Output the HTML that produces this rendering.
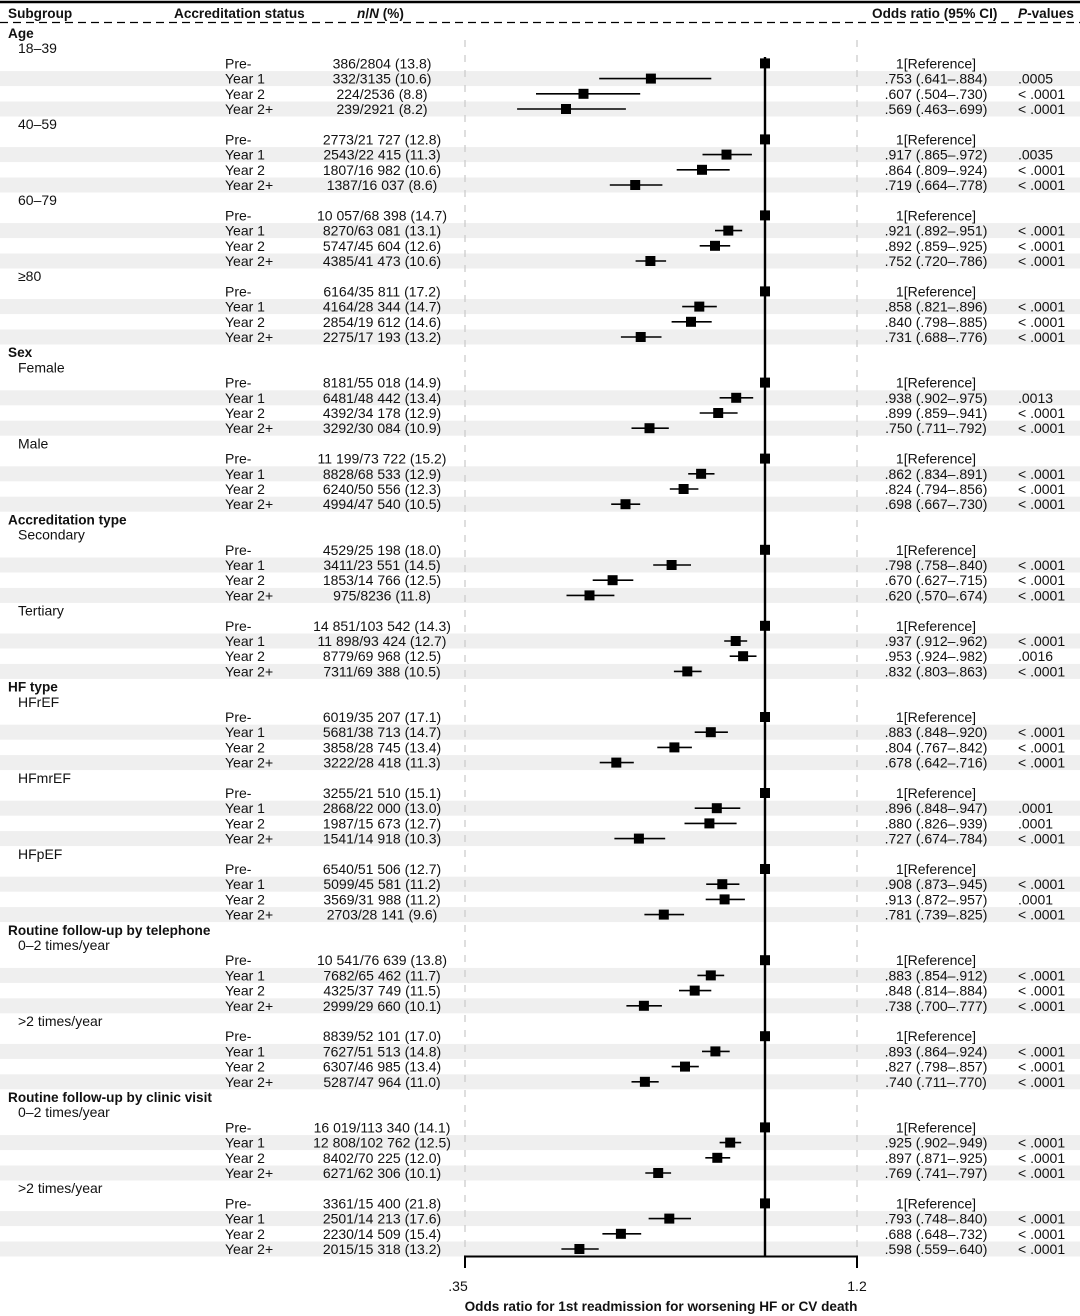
<!DOCTYPE html>
<html><head><meta charset="utf-8"><style>
html,body{margin:0;padding:0;background:#fff}
svg{display:block}
text{font-family:"Liberation Sans",Arial,sans-serif;font-size:14px;fill:#111}
.h{font-weight:bold;font-size:13.6px}
.m{text-anchor:middle}
.b{fill:#efefef}
line.c{stroke:#000;stroke-width:1.6}
rect.s{fill:#000;width:10px;height:10px}
</style></head><body>
<svg width="1080" height="1316" viewBox="0 0 1080 1316" xmlns="http://www.w3.org/2000/svg">
<g class="b">
<rect x="0" y="71.1" width="1080" height="15"/><rect x="0" y="101.5" width="1080" height="15"/>
<rect x="0" y="147.1" width="1080" height="15"/><rect x="0" y="177.5" width="1080" height="15"/>
<rect x="0" y="223.1" width="1080" height="15"/><rect x="0" y="253.5" width="1080" height="15"/>
<rect x="0" y="299.1" width="1080" height="15"/><rect x="0" y="329.5" width="1080" height="15"/>
<rect x="0" y="390.3" width="1080" height="15"/><rect x="0" y="420.7" width="1080" height="15"/>
<rect x="0" y="466.3" width="1080" height="15"/><rect x="0" y="496.7" width="1080" height="15"/>
<rect x="0" y="557.5" width="1080" height="15"/><rect x="0" y="587.9" width="1080" height="15"/>
<rect x="0" y="633.5" width="1080" height="15"/><rect x="0" y="663.9" width="1080" height="15"/>
<rect x="0" y="724.7" width="1080" height="15"/><rect x="0" y="755.1" width="1080" height="15"/>
<rect x="0" y="800.7" width="1080" height="15"/><rect x="0" y="831.1" width="1080" height="15"/>
<rect x="0" y="876.7" width="1080" height="15"/><rect x="0" y="907.1" width="1080" height="15"/>
<rect x="0" y="967.9" width="1080" height="15"/><rect x="0" y="998.3" width="1080" height="15"/>
<rect x="0" y="1043.9" width="1080" height="15"/><rect x="0" y="1074.3" width="1080" height="15"/>
<rect x="0" y="1135.1" width="1080" height="15"/><rect x="0" y="1165.5" width="1080" height="15"/>
<rect x="0" y="1211.1" width="1080" height="15"/><rect x="0" y="1241.5" width="1080" height="15"/>
</g>
<line x1="0" y1="2" x2="1080" y2="2" stroke="#000" stroke-width="2.5"/>
<line x1="0" y1="22.5" x2="1080" y2="22.5" stroke="#000" stroke-width="1.3" stroke-dasharray="8,5"/>
<text x="8" y="18" class="h">Subgroup</text>
<text x="174" y="18" class="h">Accreditation status</text>
<text x="357" y="18" class="h"><tspan font-style="italic">n</tspan>/<tspan font-style="italic">N</tspan> (%)</text>
<text x="872" y="18" class="h">Odds ratio (95% CI)</text>
<text x="1018" y="18" class="h"><tspan font-style="italic">P</tspan>-values</text>
<line x1="465" y1="40" x2="465" y2="1256" stroke="#c8c8c8" stroke-width="1.2" stroke-dasharray="7,8"/>
<line x1="857" y1="40" x2="857" y2="1256" stroke="#c8c8c8" stroke-width="1.2" stroke-dasharray="7,8"/>
<line x1="765" y1="57" x2="765" y2="1257" stroke="#000" stroke-width="2.4"/>
<line x1="464" y1="1256.5" x2="858" y2="1256.5" stroke="#000" stroke-width="2"/>
<line x1="465" y1="1256" x2="465" y2="1268" stroke="#000" stroke-width="2"/>
<line x1="857" y1="1256" x2="857" y2="1268" stroke="#000" stroke-width="2"/>
<text x="458" y="1291" class="m">.35</text>
<text x="857" y="1291" class="m">1.2</text>
<text x="661" y="1311" class="m h">Odds ratio for 1st readmission for worsening HF or CV death</text>

<text x="8" y="38" class="h">Age</text>
<text x="18" y="53.2">18–39</text>
<g transform="translate(0,63.4)"><text x="225" y="5">Pre-</text><text x="382" y="5" class="m">386/2804 (13.8)</text><text x="936" y="5" class="m">1[Reference]</text><rect class="s" x="760" y="-5"/></g>
<g transform="translate(0,78.6)"><text x="225" y="5">Year 1</text><text x="382" y="5" class="m">332/3135 (10.6)</text><text x="936" y="5" class="m">.753 (.641–.884)</text><text x="1018" y="5">.0005</text><line class="c" x1="599.2" x2="711.3"/><rect class="s" x="645.9" y="-5"/></g>
<g transform="translate(0,93.8)"><text x="225" y="5">Year 2</text><text x="382" y="5" class="m">224/2536 (8.8)</text><text x="936" y="5" class="m">.607 (.504–.730)</text><text x="1018" y="5">&lt; .0001</text><line class="c" x1="536" x2="640.2"/><rect class="s" x="578.5" y="-5"/></g>
<g transform="translate(0,109)"><text x="225" y="5">Year 2+</text><text x="382" y="5" class="m">239/2921 (8.2)</text><text x="936" y="5" class="m">.569 (.463–.699)</text><text x="1018" y="5">&lt; .0001</text><line class="c" x1="517.1" x2="625.9"/><rect class="s" x="561" y="-5"/></g>
<text x="18" y="129.2">40–59</text>
<g transform="translate(0,139.4)"><text x="225" y="5">Pre-</text><text x="382" y="5" class="m">2773/21 727 (12.8)</text><text x="936" y="5" class="m">1[Reference]</text><rect class="s" x="760" y="-5"/></g>
<g transform="translate(0,154.6)"><text x="225" y="5">Year 1</text><text x="382" y="5" class="m">2543/22 415 (11.3)</text><text x="936" y="5" class="m">.917 (.865–.972)</text><text x="1018" y="5">.0035</text><line class="c" x1="702.5" x2="751.9"/><rect class="s" x="721.5" y="-5"/></g>
<g transform="translate(0,169.8)"><text x="225" y="5">Year 2</text><text x="382" y="5" class="m">1807/16 982 (10.6)</text><text x="936" y="5" class="m">.864 (.809–.924)</text><text x="1018" y="5">&lt; .0001</text><line class="c" x1="676.7" x2="729.7"/><rect class="s" x="697" y="-5"/></g>
<g transform="translate(0,185)"><text x="225" y="5">Year 2+</text><text x="382" y="5" class="m">1387/16 037 (8.6)</text><text x="936" y="5" class="m">.719 (.664–.778)</text><text x="1018" y="5">&lt; .0001</text><line class="c" x1="609.8" x2="662.4"/><rect class="s" x="630.2" y="-5"/></g>
<text x="18" y="205.2">60–79</text>
<g transform="translate(0,215.4)"><text x="225" y="5">Pre-</text><text x="382" y="5" class="m">10 057/68 398 (14.7)</text><text x="936" y="5" class="m">1[Reference]</text><rect class="s" x="760" y="-5"/></g>
<g transform="translate(0,230.6)"><text x="225" y="5">Year 1</text><text x="382" y="5" class="m">8270/63 081 (13.1)</text><text x="936" y="5" class="m">.921 (.892–.951)</text><text x="1018" y="5">&lt; .0001</text><line class="c" x1="715" x2="742.2"/><rect class="s" x="723.3" y="-5"/></g>
<g transform="translate(0,245.8)"><text x="225" y="5">Year 2</text><text x="382" y="5" class="m">5747/45 604 (12.6)</text><text x="936" y="5" class="m">.892 (.859–.925)</text><text x="1018" y="5">&lt; .0001</text><line class="c" x1="699.7" x2="730.2"/><rect class="s" x="710" y="-5"/></g>
<g transform="translate(0,261)"><text x="225" y="5">Year 2+</text><text x="382" y="5" class="m">4385/41 473 (10.6)</text><text x="936" y="5" class="m">.752 (.720–.786)</text><text x="1018" y="5">&lt; .0001</text><line class="c" x1="635.6" x2="666.1"/><rect class="s" x="645.4" y="-5"/></g>
<text x="18" y="281.2">≥80</text>
<g transform="translate(0,291.4)"><text x="225" y="5">Pre-</text><text x="382" y="5" class="m">6164/35 811 (17.2)</text><text x="936" y="5" class="m">1[Reference]</text><rect class="s" x="760" y="-5"/></g>
<g transform="translate(0,306.6)"><text x="225" y="5">Year 1</text><text x="382" y="5" class="m">4164/28 344 (14.7)</text><text x="936" y="5" class="m">.858 (.821–.896)</text><text x="1018" y="5">&lt; .0001</text><line class="c" x1="682.2" x2="716.8"/><rect class="s" x="694.3" y="-5"/></g>
<g transform="translate(0,321.8)"><text x="225" y="5">Year 2</text><text x="382" y="5" class="m">2854/19 612 (14.6)</text><text x="936" y="5" class="m">.840 (.798–.885)</text><text x="1018" y="5">&lt; .0001</text><line class="c" x1="671.6" x2="711.7"/><rect class="s" x="686" y="-5"/></g>
<g transform="translate(0,337)"><text x="225" y="5">Year 2+</text><text x="382" y="5" class="m">2275/17 193 (13.2)</text><text x="936" y="5" class="m">.731 (.688–.776)</text><text x="1018" y="5">&lt; .0001</text><line class="c" x1="620.9" x2="661.5"/><rect class="s" x="635.7" y="-5"/></g>

<text x="8" y="357.2" class="h">Sex</text>
<text x="18" y="372.4">Female</text>
<g transform="translate(0,382.6)"><text x="225" y="5">Pre-</text><text x="382" y="5" class="m">8181/55 018 (14.9)</text><text x="936" y="5" class="m">1[Reference]</text><rect class="s" x="760" y="-5"/></g>
<g transform="translate(0,397.8)"><text x="225" y="5">Year 1</text><text x="382" y="5" class="m">6481/48 442 (13.4)</text><text x="936" y="5" class="m">.938 (.902–.975)</text><text x="1018" y="5">.0013</text><line class="c" x1="719.6" x2="753.2"/><rect class="s" x="731.2" y="-5"/></g>
<g transform="translate(0,413)"><text x="225" y="5">Year 2</text><text x="382" y="5" class="m">4392/34 178 (12.9)</text><text x="936" y="5" class="m">.899 (.859–.941)</text><text x="1018" y="5">&lt; .0001</text><line class="c" x1="699.7" x2="737.6"/><rect class="s" x="713.2" y="-5"/></g>
<g transform="translate(0,428.2)"><text x="225" y="5">Year 2+</text><text x="382" y="5" class="m">3292/30 084 (10.9)</text><text x="936" y="5" class="m">.750 (.711–.792)</text><text x="1018" y="5">&lt; .0001</text><line class="c" x1="631.5" x2="668.8"/><rect class="s" x="644.5" y="-5"/></g>
<text x="18" y="448.4">Male</text>
<g transform="translate(0,458.6)"><text x="225" y="5">Pre-</text><text x="382" y="5" class="m">11 199/73 722 (15.2)</text><text x="936" y="5" class="m">1[Reference]</text><rect class="s" x="760" y="-5"/></g>
<g transform="translate(0,473.8)"><text x="225" y="5">Year 1</text><text x="382" y="5" class="m">8828/68 533 (12.9)</text><text x="936" y="5" class="m">.862 (.834–.891)</text><text x="1018" y="5">&lt; .0001</text><line class="c" x1="688.2" x2="714.5"/><rect class="s" x="696.1" y="-5"/></g>
<g transform="translate(0,489)"><text x="225" y="5">Year 2</text><text x="382" y="5" class="m">6240/50 556 (12.3)</text><text x="936" y="5" class="m">.824 (.794–.856)</text><text x="1018" y="5">&lt; .0001</text><line class="c" x1="669.8" x2="698.4"/><rect class="s" x="678.6" y="-5"/></g>
<g transform="translate(0,504.2)"><text x="225" y="5">Year 2+</text><text x="382" y="5" class="m">4994/47 540 (10.5)</text><text x="936" y="5" class="m">.698 (.667–.730)</text><text x="1018" y="5">&lt; .0001</text><line class="c" x1="611.2" x2="640.2"/><rect class="s" x="620.5" y="-5"/></g>

<text x="8" y="524.4" class="h">Accreditation type</text>
<text x="18" y="539.6">Secondary</text>
<g transform="translate(0,549.8)"><text x="225" y="5">Pre-</text><text x="382" y="5" class="m">4529/25 198 (18.0)</text><text x="936" y="5" class="m">1[Reference]</text><rect class="s" x="760" y="-5"/></g>
<g transform="translate(0,565)"><text x="225" y="5">Year 1</text><text x="382" y="5" class="m">3411/23 551 (14.5)</text><text x="936" y="5" class="m">.798 (.758–.840)</text><text x="1018" y="5">&lt; .0001</text><line class="c" x1="653.2" x2="691"/><rect class="s" x="666.6" y="-5"/></g>
<g transform="translate(0,580.2)"><text x="225" y="5">Year 2</text><text x="382" y="5" class="m">1853/14 766 (12.5)</text><text x="936" y="5" class="m">.670 (.627–.715)</text><text x="1018" y="5">&lt; .0001</text><line class="c" x1="592.7" x2="633.3"/><rect class="s" x="607.6" y="-5"/></g>
<g transform="translate(0,595.4)"><text x="225" y="5">Year 2+</text><text x="382" y="5" class="m">975/8236 (11.8)</text><text x="936" y="5" class="m">.620 (.570–.674)</text><text x="1018" y="5">&lt; .0001</text><line class="c" x1="566.5" x2="614.4"/><rect class="s" x="584.5" y="-5"/></g>
<text x="18" y="615.6">Tertiary</text>
<g transform="translate(0,625.8)"><text x="225" y="5">Pre-</text><text x="382" y="5" class="m">14 851/103 542 (14.3)</text><text x="936" y="5" class="m">1[Reference]</text><rect class="s" x="760" y="-5"/></g>
<g transform="translate(0,641)"><text x="225" y="5">Year 1</text><text x="382" y="5" class="m">11 898/93 424 (12.7)</text><text x="936" y="5" class="m">.937 (.912–.962)</text><text x="1018" y="5">&lt; .0001</text><line class="c" x1="724.2" x2="747.2"/><rect class="s" x="730.7" y="-5"/></g>
<g transform="translate(0,656.2)"><text x="225" y="5">Year 2</text><text x="382" y="5" class="m">8779/69 968 (12.5)</text><text x="936" y="5" class="m">.953 (.924–.982)</text><text x="1018" y="5">.0016</text><line class="c" x1="729.7" x2="756.5"/><rect class="s" x="738.1" y="-5"/></g>
<g transform="translate(0,671.4)"><text x="225" y="5">Year 2+</text><text x="382" y="5" class="m">7311/69 388 (10.5)</text><text x="936" y="5" class="m">.832 (.803–.863)</text><text x="1018" y="5">&lt; .0001</text><line class="c" x1="673.9" x2="701.6"/><rect class="s" x="682.3" y="-5"/></g>

<text x="8" y="691.6" class="h">HF type</text>
<text x="18" y="706.8">HFrEF</text>
<g transform="translate(0,717)"><text x="225" y="5">Pre-</text><text x="382" y="5" class="m">6019/35 207 (17.1)</text><text x="936" y="5" class="m">1[Reference]</text><rect class="s" x="760" y="-5"/></g>
<g transform="translate(0,732.2)"><text x="225" y="5">Year 1</text><text x="382" y="5" class="m">5681/38 713 (14.7)</text><text x="936" y="5" class="m">.883 (.848–.920)</text><text x="1018" y="5">&lt; .0001</text><line class="c" x1="694.7" x2="727.9"/><rect class="s" x="705.8" y="-5"/></g>
<g transform="translate(0,747.4)"><text x="225" y="5">Year 2</text><text x="382" y="5" class="m">3858/28 745 (13.4)</text><text x="936" y="5" class="m">.804 (.767–.842)</text><text x="1018" y="5">&lt; .0001</text><line class="c" x1="657.3" x2="691.9"/><rect class="s" x="669.4" y="-5"/></g>
<g transform="translate(0,762.6)"><text x="225" y="5">Year 2+</text><text x="382" y="5" class="m">3222/28 418 (11.3)</text><text x="936" y="5" class="m">.678 (.642–.716)</text><text x="1018" y="5">&lt; .0001</text><line class="c" x1="599.7" x2="633.8"/><rect class="s" x="611.3" y="-5"/></g>
<text x="18" y="782.8">HFmrEF</text>
<g transform="translate(0,793)"><text x="225" y="5">Pre-</text><text x="382" y="5" class="m">3255/21 510 (15.1)</text><text x="936" y="5" class="m">1[Reference]</text><rect class="s" x="760" y="-5"/></g>
<g transform="translate(0,808.2)"><text x="225" y="5">Year 1</text><text x="382" y="5" class="m">2868/22 000 (13.0)</text><text x="936" y="5" class="m">.896 (.848–.947)</text><text x="1018" y="5">.0001</text><line class="c" x1="694.7" x2="740.3"/><rect class="s" x="711.8" y="-5"/></g>
<g transform="translate(0,823.4)"><text x="225" y="5">Year 2</text><text x="382" y="5" class="m">1987/15 673 (12.7)</text><text x="936" y="5" class="m">.880 (.826–.939)</text><text x="1018" y="5">.0001</text><line class="c" x1="684.5" x2="736.6"/><rect class="s" x="704.4" y="-5"/></g>
<g transform="translate(0,838.6)"><text x="225" y="5">Year 2+</text><text x="382" y="5" class="m">1541/14 918 (10.3)</text><text x="936" y="5" class="m">.727 (.674–.784)</text><text x="1018" y="5">&lt; .0001</text><line class="c" x1="614.4" x2="665.2"/><rect class="s" x="633.9" y="-5"/></g>
<text x="18" y="858.8">HFpEF</text>
<g transform="translate(0,869)"><text x="225" y="5">Pre-</text><text x="382" y="5" class="m">6540/51 506 (12.7)</text><text x="936" y="5" class="m">1[Reference]</text><rect class="s" x="760" y="-5"/></g>
<g transform="translate(0,884.2)"><text x="225" y="5">Year 1</text><text x="382" y="5" class="m">5099/45 581 (11.2)</text><text x="936" y="5" class="m">.908 (.873–.945)</text><text x="1018" y="5">&lt; .0001</text><line class="c" x1="706.2" x2="739.4"/><rect class="s" x="717.3" y="-5"/></g>
<g transform="translate(0,899.4)"><text x="225" y="5">Year 2</text><text x="382" y="5" class="m">3569/31 988 (11.2)</text><text x="936" y="5" class="m">.913 (.872–.957)</text><text x="1018" y="5">.0001</text><line class="c" x1="705.7" x2="744.9"/><rect class="s" x="719.6" y="-5"/></g>
<g transform="translate(0,914.6)"><text x="225" y="5">Year 2+</text><text x="382" y="5" class="m">2703/28 141 (9.6)</text><text x="936" y="5" class="m">.781 (.739–.825)</text><text x="1018" y="5">&lt; .0001</text><line class="c" x1="644.4" x2="684.1"/><rect class="s" x="658.8" y="-5"/></g>

<text x="8" y="934.8" class="h">Routine follow-up by telephone</text>
<text x="18" y="950">0–2 times/year</text>
<g transform="translate(0,960.2)"><text x="225" y="5">Pre-</text><text x="382" y="5" class="m">10 541/76 639 (13.8)</text><text x="936" y="5" class="m">1[Reference]</text><rect class="s" x="760" y="-5"/></g>
<g transform="translate(0,975.4)"><text x="225" y="5">Year 1</text><text x="382" y="5" class="m">7682/65 462 (11.7)</text><text x="936" y="5" class="m">.883 (.854–.912)</text><text x="1018" y="5">&lt; .0001</text><line class="c" x1="697.4" x2="724.2"/><rect class="s" x="705.8" y="-5"/></g>
<g transform="translate(0,990.6)"><text x="225" y="5">Year 2</text><text x="382" y="5" class="m">4325/37 749 (11.5)</text><text x="936" y="5" class="m">.848 (.814–.884)</text><text x="1018" y="5">&lt; .0001</text><line class="c" x1="679" x2="711.3"/><rect class="s" x="689.7" y="-5"/></g>
<g transform="translate(0,1005.8)"><text x="225" y="5">Year 2+</text><text x="382" y="5" class="m">2999/29 660 (10.1)</text><text x="936" y="5" class="m">.738 (.700–.777)</text><text x="1018" y="5">&lt; .0001</text><line class="c" x1="626.4" x2="661.9"/><rect class="s" x="638.9" y="-5"/></g>
<text x="18" y="1026">&gt;2 times/year</text>
<g transform="translate(0,1036.2)"><text x="225" y="5">Pre-</text><text x="382" y="5" class="m">8839/52 101 (17.0)</text><text x="936" y="5" class="m">1[Reference]</text><rect class="s" x="760" y="-5"/></g>
<g transform="translate(0,1051.4)"><text x="225" y="5">Year 1</text><text x="382" y="5" class="m">7627/51 513 (14.8)</text><text x="936" y="5" class="m">.893 (.864–.924)</text><text x="1018" y="5">&lt; .0001</text><line class="c" x1="702" x2="729.7"/><rect class="s" x="710.4" y="-5"/></g>
<g transform="translate(0,1066.6)"><text x="225" y="5">Year 2</text><text x="382" y="5" class="m">6307/46 985 (13.4)</text><text x="936" y="5" class="m">.827 (.798–.857)</text><text x="1018" y="5">&lt; .0001</text><line class="c" x1="671.6" x2="698.8"/><rect class="s" x="680" y="-5"/></g>
<g transform="translate(0,1081.8)"><text x="225" y="5">Year 2+</text><text x="382" y="5" class="m">5287/47 964 (11.0)</text><text x="936" y="5" class="m">.740 (.711–.770)</text><text x="1018" y="5">&lt; .0001</text><line class="c" x1="631.5" x2="658.7"/><rect class="s" x="639.9" y="-5"/></g>

<text x="8" y="1102" class="h">Routine follow-up by clinic visit</text>
<text x="18" y="1117.2">0–2 times/year</text>
<g transform="translate(0,1127.4)"><text x="225" y="5">Pre-</text><text x="382" y="5" class="m">16 019/113 340 (14.1)</text><text x="936" y="5" class="m">1[Reference]</text><rect class="s" x="760" y="-5"/></g>
<g transform="translate(0,1142.6)"><text x="225" y="5">Year 1</text><text x="382" y="5" class="m">12 808/102 762 (12.5)</text><text x="936" y="5" class="m">.925 (.902–.949)</text><text x="1018" y="5">&lt; .0001</text><line class="c" x1="719.6" x2="741.2"/><rect class="s" x="725.2" y="-5"/></g>
<g transform="translate(0,1157.8)"><text x="225" y="5">Year 2</text><text x="382" y="5" class="m">8402/70 225 (12.0)</text><text x="936" y="5" class="m">.897 (.871–.925)</text><text x="1018" y="5">&lt; .0001</text><line class="c" x1="705.3" x2="730.2"/><rect class="s" x="712.3" y="-5"/></g>
<g transform="translate(0,1173)"><text x="225" y="5">Year 2+</text><text x="382" y="5" class="m">6271/62 306 (10.1)</text><text x="936" y="5" class="m">.769 (.741–.797)</text><text x="1018" y="5">&lt; .0001</text><line class="c" x1="645.3" x2="671.1"/><rect class="s" x="653.2" y="-5"/></g>
<text x="18" y="1193.2">&gt;2 times/year</text>
<g transform="translate(0,1203.4)"><text x="225" y="5">Pre-</text><text x="382" y="5" class="m">3361/15 400 (21.8)</text><text x="936" y="5" class="m">1[Reference]</text><rect class="s" x="760" y="-5"/></g>
<g transform="translate(0,1218.6)"><text x="225" y="5">Year 1</text><text x="382" y="5" class="m">2501/14 213 (17.6)</text><text x="936" y="5" class="m">.793 (.748–.840)</text><text x="1018" y="5">&lt; .0001</text><line class="c" x1="648.6" x2="691"/><rect class="s" x="664.3" y="-5"/></g>
<g transform="translate(0,1233.8)"><text x="225" y="5">Year 2</text><text x="382" y="5" class="m">2230/14 509 (15.4)</text><text x="936" y="5" class="m">.688 (.648–.732)</text><text x="1018" y="5">&lt; .0001</text><line class="c" x1="602.4" x2="641.2"/><rect class="s" x="615.9" y="-5"/></g>
<g transform="translate(0,1249)"><text x="225" y="5">Year 2+</text><text x="382" y="5" class="m">2015/15 318 (13.2)</text><text x="936" y="5" class="m">.598 (.559–.640)</text><text x="1018" y="5">&lt; .0001</text><line class="c" x1="561.4" x2="598.7"/><rect class="s" x="574.4" y="-5"/></g>
</svg>
</body></html>
